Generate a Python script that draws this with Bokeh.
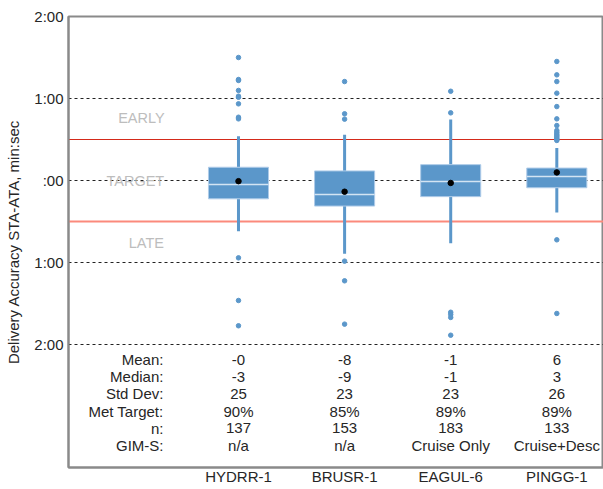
from bokeh.plotting import figure
from bokeh.models import ColumnDataSource, FixedTicker, Span, Range1d
from bokeh.core.properties import value
from bokeh.embed import file_html
from bokeh.resources import INLINE

# ---------------- data (seconds; positive = early) ----------------
categories = ["HYDRR-1", "BRUSR-1", "EAGUL-6", "PINGG-1"]
q1 = [-13.4, -18.7, -11.8, -5.3]
q3 = [9.7, 7.0, 11.6, 9.1]
median = [-2.9, -10.2, -0.7, 2.9]
mean = [-0.5, -8.2, -1.8, 5.9]
whisk_lo = [-37.1, -53.6, -45.9, -23.4]
whisk_hi = [32.4, 33.4, 44.6, 23.8]

outliers_hydrr = [90.0, 73.9, 73.2, 65.9, 61.7, 60.9, 56.1, 46.3, 45.1, -56.6, -87.8, -106.3]
outliers_brusr = [72.4, 48.8, 44.9, -59.0, -73.4, -105.1]
outliers_eagul = [65.3, 49.5, -96.4, -98.0, -100.2, -113.2]
outliers_pingg = [87.1, 77.3, 72.4, 63.9, 54.1, 45.1, 40.2, 36.6, 35.3, 34.0, 33.0,
                  32.0, 31.0, 30.0, 29.3, -43.4, -97.3]

stat_names = ["Mean:", "Median:", "Std Dev:", "Met Target:", "n:", "GIM-S:"]
stat_mean = ["-0", "-8", "-1", "6"]
stat_median = ["-3", "-9", "-1", "3"]
stat_std = ["25", "23", "23", "26"]
stat_met = ["90%", "85%", "89%", "89%"]
stat_n = ["137", "153", "183", "133"]
stat_gims = ["n/a", "n/a", "Cruise Only", "Cruise+Desc"]

y_ticks = [120, 60, 0, -60, -120]
y_tick_labels = ["2:00", "1:00", ":00", "1:00", "2:00"]
grid_ticks = [60, 0, -60, -120]
early_limit = 30
late_limit = -30
zone_labels = ["EARLY", "TARGET", "LATE"]

# ---------------- styling / layout ----------------
FONT = "Liberation Sans"
BLUE = "#5b97ca"
EDGE = "#aecbe8"
MED = "#d3e4f3"
TXT = "#262626"
AXIS = "#8a8a8a"
BOX_W = 0.566
Y_START, Y_END = -210, 120

x = [i + 1 for i in range(len(categories))]

p = figure(width=603, height=489,
           x_range=Range1d(-0.602, 4.44), y_range=Range1d(Y_START, Y_END),
           output_backend="svg", toolbar_location=None,
           min_border_left=68, min_border_right=0,
           min_border_top=16, min_border_bottom=22)
p.outline_line_color = AXIS
p.outline_line_width = 2
p.background_fill_color = "white"
p.border_fill_color = "white"

p.xgrid.visible = False
p.ygrid.ticker = FixedTicker(ticks=grid_ticks)
p.ygrid.grid_line_color = "#222222"
p.ygrid.grid_line_dash = "3 3"
p.ygrid.grid_line_width = 1

# y axis
p.yaxis.ticker = FixedTicker(ticks=y_ticks)
p.yaxis.major_label_overrides = dict(zip(y_ticks, y_tick_labels))
p.yaxis.axis_label = "Delivery Accuracy STA-ATA, min:sec"
p.yaxis.axis_label_text_font = FONT
p.yaxis.axis_label_text_font_size = "15px"
p.yaxis.axis_label_text_font_style = "normal"
p.yaxis.axis_label_text_color = TXT
p.yaxis.axis_label_standoff = 9
p.yaxis.major_label_text_font = FONT
p.yaxis.major_label_text_font_size = "15px"
p.yaxis.major_label_text_color = TXT
p.yaxis.major_label_standoff = 5
p.yaxis.major_tick_out = 0
p.yaxis.major_tick_in = 0
p.yaxis.minor_tick_out = 0
p.yaxis.minor_tick_in = 0
p.yaxis.major_tick_line_color = None
p.yaxis.minor_tick_line_color = None
p.yaxis.axis_line_color = AXIS
p.yaxis.axis_line_width = 2

# x axis
p.xaxis.ticker = FixedTicker(ticks=x)
p.xaxis.major_label_overrides = dict(zip(x, categories))
p.xaxis.major_label_text_font = FONT
p.xaxis.major_label_text_font_size = "15px"
p.xaxis.major_label_text_color = TXT
p.xaxis.major_label_standoff = 0
p.xaxis.major_tick_out = 0
p.xaxis.major_tick_in = 0
p.xaxis.minor_tick_out = 0
p.xaxis.minor_tick_in = 0
p.xaxis.major_tick_line_color = None
p.xaxis.minor_tick_line_color = None
p.xaxis.axis_line_color = AXIS
p.xaxis.axis_line_width = 2

# early / late limits
p.add_layout(Span(location=early_limit, dimension="width", line_color="#d42a1a",
                  line_width=1, level="underlay"))
p.add_layout(Span(location=late_limit, dimension="width", line_color="#fb8a7c",
                  line_width=1.8, level="underlay"))

# zone labels
p.text(x=[0.085, 0.028, 0.132], y=[45.4, -0.7, -46.0], text=zone_labels,
       text_align="center", text_baseline="middle", text_font=value(FONT),
       text_font_size="14.5px", text_color="#bdbdbd")

# box plots
src = ColumnDataSource(dict(
    x=x, q1=q1, q3=q3, med=median, mean=mean, lo=whisk_lo, hi=whisk_hi,
    xl=[xi - BOX_W / 2 for xi in x], xr=[xi + BOX_W / 2 for xi in x]))

p.segment(x0="x", y0="q3", x1="x", y1="hi", source=src, line_width=3, line_color=BLUE)
p.segment(x0="x", y0="q1", x1="x", y1="lo", source=src, line_width=3, line_color=BLUE)
p.vbar(x="x", width=BOX_W, top="q3", bottom="q1", source=src,
       fill_color=BLUE, line_color=EDGE, line_width=1)
p.segment(x0="xl", y0="med", x1="xr", y1="med", source=src, line_width=1.5, line_color=MED)
p.scatter(x="x", y="mean", source=src, size=5.5, color="black")

all_out = [outliers_hydrr, outliers_brusr, outliers_eagul, outliers_pingg]
ox, oy = [], []
for xi, outs in zip(x, all_out):
    ox += [xi] * len(outs)
    oy += outs
p.scatter(x=ox, y=oy, size=4.5, color=BLUE)

# statistics table
ROW0 = -131.2
ROW_STEP = 12.5
LABEL_X = 0.293
row_y = [ROW0 - i * ROW_STEP for i in range(len(stat_names))]
p.text(x=[LABEL_X] * len(stat_names), y=row_y, text=stat_names,
       text_align="right", text_baseline="middle", text_font=value(FONT),
       text_font_size="15px", text_color=TXT)

rows = [stat_mean, stat_median, stat_std, stat_met, stat_n, stat_gims]
tx, ty, tt = [], [], []
for ry, row in zip(row_y, rows):
    for xi, t in zip(x, row):
        tx.append(xi)
        ty.append(ry)
        tt.append(t)
p.text(x=tx, y=ty, text=tt, text_align="center", text_baseline="middle",
       text_font=value(FONT), text_font_size="15px", text_color=TXT)

open("out.html", "w").write(file_html(p, INLINE))
